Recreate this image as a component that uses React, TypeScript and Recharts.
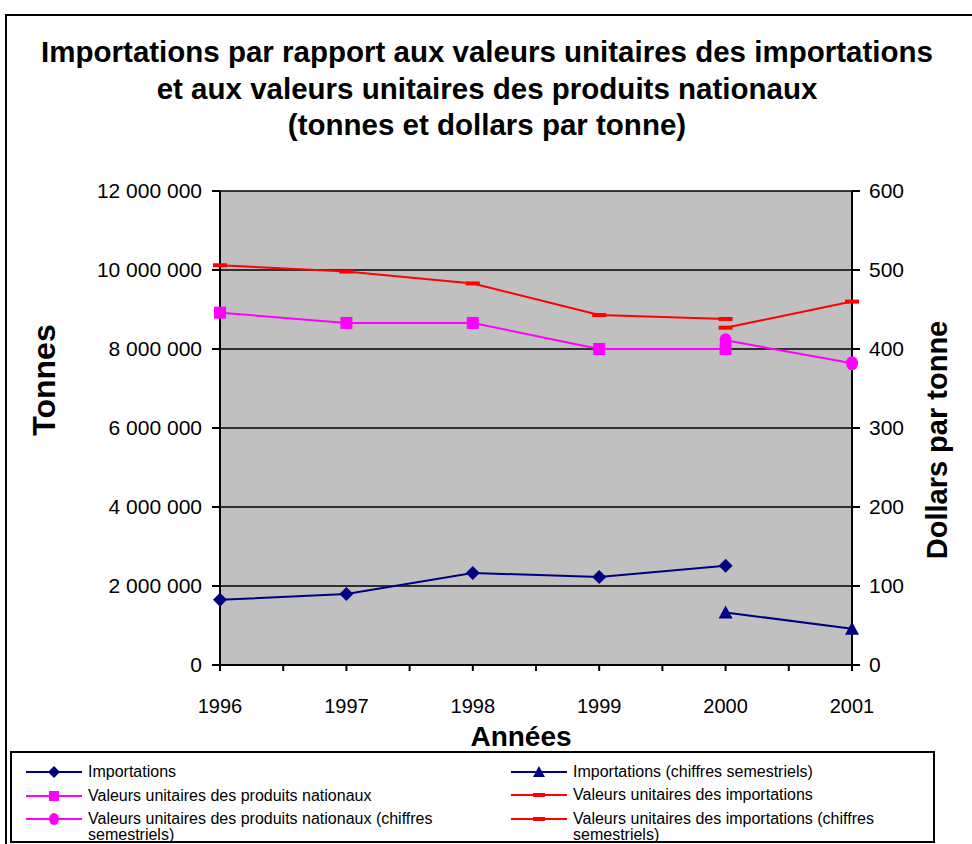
import React from 'react';
import { ComposedChart, Line, XAxis, YAxis, CartesianGrid } from 'recharts';

const years = [1996, 1997, 1998, 1999, 2000, 2001];
const importations = [1650000, 1800000, 2330000, 2230000, 2510000, null];
const importationsSem = [null, null, null, null, 1330000, 920000];
const vuNationaux = [446, 433, 433, 400, 400, null];
const vuNationauxSem = [null, null, null, null, 411, 382];
const vuImportations = [506, 498, 483, 443, 438, null];
const vuImportationsSem = [null, null, null, null, 427, 460];

const leftTicks = [0, 2000000, 4000000, 6000000, 8000000, 10000000, 12000000];
const rightTicks = [0, 100, 200, 300, 400, 500, 600];
const xTicks = [1996, 1996.5, 1997, 1997.5, 1998, 1998.5, 1999, 1999.5, 2000, 2000.5, 2001];

const data = years.map((y, i) => ({
  year: y,
  imp: importations[i],
  impSem: importationsSem[i],
  vuNat: vuNationaux[i],
  vuNatSem: vuNationauxSem[i],
  vuImp: vuImportations[i],
  vuImpSem: vuImportationsSem[i],
}));

const NAVY = '#000080';
const MAGENTA = '#FF00FF';
const RED = '#FF0000';
const FONT = '"Liberation Sans", Arial, sans-serif';

const fmtTonnes = (v: number) => String(v).replace(/\B(?=(\d{3})+(?!\d))/g, ' ');

const ok = (p: any) => p.cx != null && p.cy != null && p.value != null;

const Diamond = (p: any) =>
  ok(p) ? <path key={p.key} d={`M${p.cx},${p.cy - 7} L${p.cx + 7},${p.cy} L${p.cx},${p.cy + 7} L${p.cx - 7},${p.cy} Z`} fill={NAVY} /> : <g key={p.key} />;
const Triangle = (p: any) =>
  ok(p) ? <path key={p.key} d={`M${p.cx},${p.cy - 7} L${p.cx + 7},${p.cy + 6} L${p.cx - 7},${p.cy + 6} Z`} fill={NAVY} /> : <g key={p.key} />;
const Square = (p: any) =>
  ok(p) ? <rect key={p.key} x={p.cx - 6} y={p.cy - 6} width={12} height={12} fill={MAGENTA} /> : <g key={p.key} />;
const Circle = (p: any) =>
  ok(p) ? <ellipse key={p.key} cx={p.cx} cy={p.cy} rx={6} ry={7} fill={MAGENTA} /> : <g key={p.key} />;
const Dash = (p: any) =>
  ok(p) ? <rect key={p.key} x={p.cx - 7} y={p.cy - 2} width={14} height={4} fill={RED} /> : <g key={p.key} />;

const LegendIcon = ({ color, marker }: { color: string; marker: string }) => (
  <svg width={56} height={14} style={{ display: 'block' }}>
    <line x1={0} y1={7} x2={56} y2={7} stroke={color} strokeWidth={2} />
    {marker === 'diamond' && <path d="M28,1 L34,7 L28,13 L22,7 Z" fill={color} />}
    {marker === 'triangle' && <path d="M28,1 L34,12 L22,12 Z" fill={color} />}
    {marker === 'square' && <rect x={23} y={2} width={10} height={10} fill={color} />}
    {marker === 'circle' && <ellipse cx={28} cy={7} rx={5} ry={6} fill={color} />}
    {marker === 'dash' && <rect x={22} y={5} width={12} height={4} fill={color} />}
  </svg>
);

const legendItems = [
  { x: 26, y: 764, color: NAVY, marker: 'diamond', lines: ['Importations'] },
  { x: 511, y: 764, color: NAVY, marker: 'triangle', lines: ['Importations (chiffres semestriels)'] },
  { x: 26, y: 788, color: MAGENTA, marker: 'square', lines: ['Valeurs unitaires des produits nationaux'] },
  { x: 511, y: 787, color: RED, marker: 'dash', lines: ['Valeurs unitaires des importations'] },
  { x: 26, y: 811, color: MAGENTA, marker: 'circle', lines: ['Valeurs unitaires des produits nationaux (chiffres', 'semestriels)'] },
  { x: 511, y: 811, color: RED, marker: 'dash', lines: ['Valeurs unitaires des importations (chiffres', 'semestriels)'] },
];

const XTick = (p: any) => {
  const v = p.payload.value;
  if (!Number.isInteger(v)) return <g />;
  return (
    <text x={p.x} y={p.y} dy="0.71em" textAnchor="middle" fontSize={20} fontFamily={FONT} fill="#000">
      {v}
    </text>
  );
};

export default function App() {
  return (
    <div style={{ position: 'absolute', left: 0, top: 0, width: 972, height: 844, overflow: 'hidden', background: '#fff', fontFamily: FONT }}>
      <div style={{ position: 'absolute', left: 5, top: 14, width: 1000, height: 900, border: '2px solid #000', boxSizing: 'border-box' }} />
      <div style={{ position: 'absolute', left: 0, top: 0 }}>
        <ComposedChart width={972} height={844} data={data} margin={{ top: 191, right: 60, bottom: 139, left: 130 }}>
          <CartesianGrid vertical={false} stroke="#000" strokeWidth={1.5} fill="#C0C0C0" />
          <XAxis
            dataKey="year"
            type="number"
            domain={[1996, 2001]}
            ticks={xTicks}
            interval={0}
            height={40}
            tick={<XTick />}
            tickSize={6}
            tickMargin={28}
            stroke="#000"
            strokeWidth={2}
          />
          <YAxis
            domain={[0, 12000000]}
            ticks={leftTicks}
            width={90}
            tickSize={8}
            tickMargin={10}
            tickFormatter={fmtTonnes}
            tick={{ fontSize: 21, fill: '#000', fontFamily: FONT }}
            stroke="#000"
            strokeWidth={2}
          />
          <YAxis
            yAxisId="right"
            orientation="right"
            domain={[0, 600]}
            ticks={rightTicks}
            width={60}
            tickSize={8}
            tickMargin={9}
            tick={{ fontSize: 21, fill: '#000', fontFamily: FONT }}
            stroke="#000"
            strokeWidth={2}
          />
          <Line dataKey="imp" stroke={NAVY} strokeWidth={2} dot={Diamond} isAnimationActive={false} />
          <Line dataKey="impSem" stroke={NAVY} strokeWidth={2} dot={Triangle} isAnimationActive={false} />
          <Line yAxisId="right" dataKey="vuNat" stroke={MAGENTA} strokeWidth={2} dot={Square} isAnimationActive={false} />
          <Line yAxisId="right" dataKey="vuNatSem" stroke={MAGENTA} strokeWidth={2} dot={Circle} isAnimationActive={false} />
          <Line yAxisId="right" dataKey="vuImp" stroke={RED} strokeWidth={2} dot={Dash} isAnimationActive={false} />
          <Line yAxisId="right" dataKey="vuImpSem" stroke={RED} strokeWidth={2} dot={Dash} isAnimationActive={false} />
        </ComposedChart>
      </div>
      <div style={{ position: 'absolute', left: 0, top: 34, width: 974, textAlign: 'center', fontWeight: 'bold', fontSize: 29.5, lineHeight: '36.5px', color: '#000', whiteSpace: 'nowrap' }}>
        Importations par rapport aux valeurs unitaires des importations
        <br />
        et aux valeurs unitaires des produits nationaux
        <br />
        (tonnes et dollars par tonne)
      </div>
      <div style={{ position: 'absolute', left: 44, top: 380, transform: 'translate(-50%, -50%) rotate(-90deg)', fontWeight: 'bold', fontSize: 32, whiteSpace: 'nowrap' }}>
        Tonnes
      </div>
      <div style={{ position: 'absolute', left: 937, top: 440, transform: 'translate(-50%, -50%) rotate(-90deg)', fontWeight: 'bold', fontSize: 29, whiteSpace: 'nowrap' }}>
        Dollars par tonne
      </div>
      <div style={{ position: 'absolute', left: 521, top: 737, transform: 'translate(-50%, -50%)', fontWeight: 'bold', fontSize: 28, whiteSpace: 'nowrap' }}>
        Années
      </div>
      <div style={{ position: 'absolute', left: 10, top: 751, width: 925, height: 92, border: '2px solid #000', boxSizing: 'border-box', background: '#fff', overflow: 'hidden' }}>
        {legendItems.map((it, i) => (
          <div key={i} style={{ position: 'absolute', left: it.x - 12, top: it.y - 753, display: 'flex', alignItems: 'flex-start' }}>
            <div style={{ marginTop: 1 }}>
              <LegendIcon color={it.color} marker={it.marker} />
            </div>
            <div style={{ marginLeft: 6, fontSize: 16, lineHeight: '16px', whiteSpace: 'nowrap' }}>
              {it.lines.map((l, j) => (
                <div key={j}>{l}</div>
              ))}
            </div>
          </div>
        ))}
      </div>
    </div>
  );
}
